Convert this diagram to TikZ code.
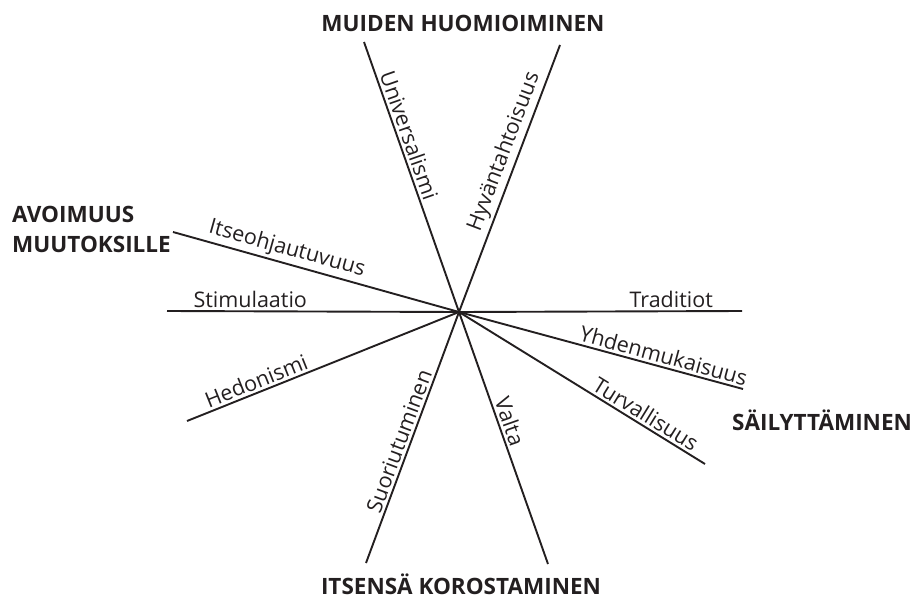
\documentclass[tikz,border=0pt]{standalone}
\usepackage{fontspec}
\setmainfont{Open Sans}
\usetikzlibrary{positioning}
\definecolor{inkDark}{HTML}{231F20}
\begin{document}
\begin{tikzpicture}[
    x=1pt,y=-1pt,
    spoke/.style={line width=1.9pt,inkDark},
    value/.style={sloped,above,inner sep=2.5pt,text=inkDark,
        font=\fontsize{21.5}{24}\selectfont},
    group/.style={inner sep=0pt,text=inkDark,align=left,
        font=\fontsize{22.5}{30}\selectfont\bfseries},
]
\useasboundingbox (0,0) rectangle (915,599);

% === CENTRE AND SPOKE ENDS ===
\coordinate (centre) at (459,312);
\coordinate (univ) at (364,42);
\coordinate (hyva) at (560,45);
\coordinate (itse) at (173,232);
\coordinate (stim) at (167,311);
\coordinate (hedo) at (187,421);
\coordinate (suor) at (366,563);
\coordinate (valta) at (548,564);
\coordinate (trad) at (742,311);
\coordinate (yhde) at (743,389);
\coordinate (turv) at (705,464);

% === SPOKES ===
\draw[spoke] (centre) -- (univ) node[value,pos=0.64] {Universalismi};
\draw[spoke] (centre) -- (hyva) node[value,pos=0.58] {Hyväntahtoisuus};
\draw[spoke] (centre) -- (itse) node[value,pos=0.615] {Itseohjautuvuus};
\draw[spoke] (centre) -- (stim) node[value,pos=0.715] {Stimulaatio};
\draw[spoke] (centre) -- (hedo) node[value,pos=0.73] {Hedonismi};
\draw[spoke] (centre) -- (suor) node[value,pos=0.53] {Suoriutuminen};
\draw[spoke] (centre) -- (valta) node[value,pos=0.45] {Valta};
\draw[spoke] (centre) -- (trad) node[value,pos=0.75] {Traditiot};
\draw[spoke] (centre) -- (yhde) node[value,pos=0.71] {Yhdenmukaisuus};
\draw[spoke] (centre) -- (turv) node[value,pos=0.735] {Turvallisuus};

% === GROUP HEADINGS ===
\node[group,anchor=base] (others) at (463,32) {MUIDEN HUOMIOIMINEN};
\node[group,anchor=base west] (open) at (12,252) {AVOIMUUS\\MUUTOKSILLE};
\node[group,anchor=base] (keep) at (822,430) {SÄILYTTÄMINEN};
\node[group,anchor=base] (self) at (461,594) {ITSENSÄ KOROSTAMINEN};

\end{tikzpicture}
\end{document}
